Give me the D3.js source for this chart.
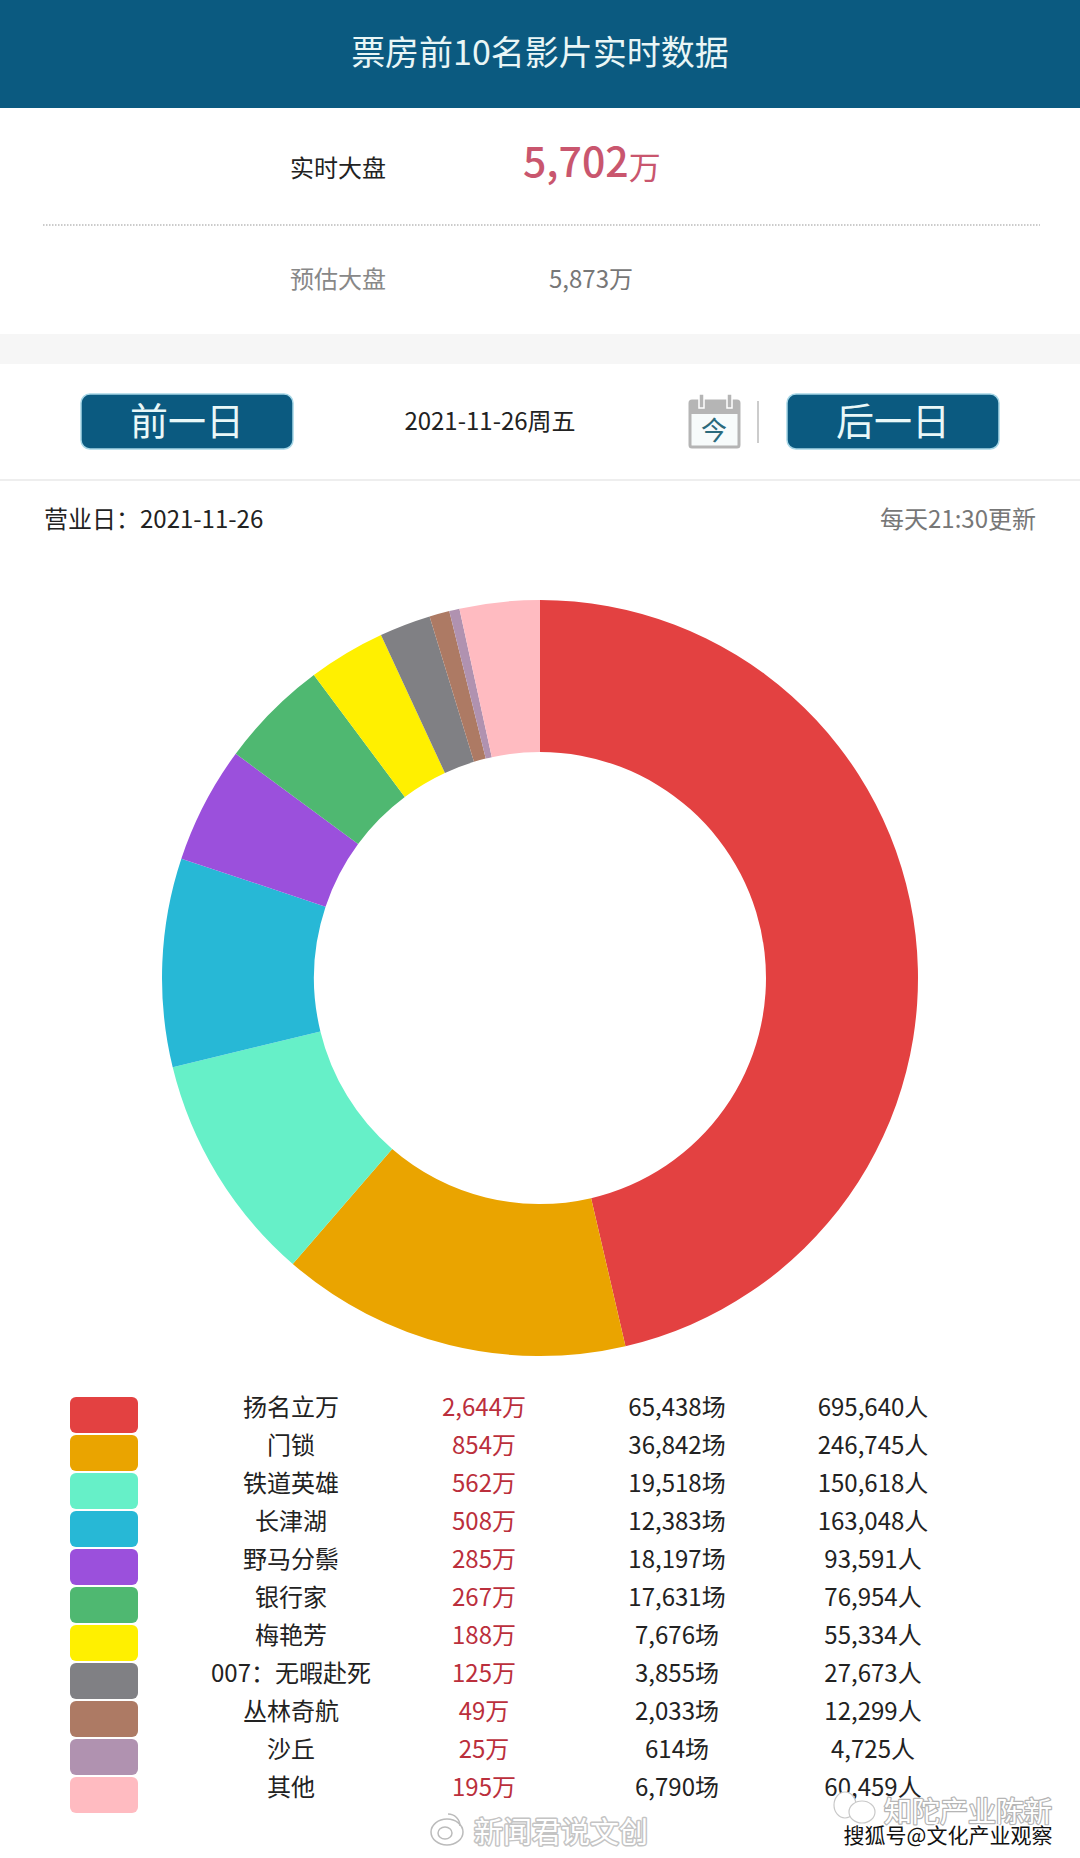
<!DOCTYPE html>
<html>
<head>
<meta charset="utf-8">
<script src="https://d3js.org/d3.v7.min.js"></script>
<style>
  html, body { margin: 0; padding: 0; background: #fff; }
  svg { display: block; }
  text { font-family: "Noto Sans CJK SC", "Noto Sans", sans-serif; }
</style>
</head>
<body>
<svg id="chart" width="1080" height="1858"></svg>
<script>
// film table
var films = ['扬名立万', '门锁', '铁道英雄', '长津湖', '野马分鬃', '银行家', '梅艳芳', '007：无暇赴死', '丛林奇航', '沙丘', '其他'];
var boxOffice = [2644, 854, 562, 508, 285, 267, 188, 125, 49, 25, 195];
var shows = [65438, 36842, 19518, 12383, 18197, 17631, 7676, 3855, 2033, 614, 6790];
var people = [695640, 246745, 150618, 163048, 93591, 76954, 55334, 27673, 12299, 4725, 60459];
var colors = ['#e34141', '#eaa400', '#66f0c8', '#27b8d6', '#9b50dc', '#4fb871', '#fff000', '#808084', '#ad7a64', '#b092b0', '#ffbbc1'];

var fmt = d3.format(',');
var svg = d3.select('#chart');
var teal = '#0b5a80';

// appends a text and returns it
var label = function (x, y, str, size, fill, anchor) {
  return svg.append('text')
    .attr('x', x)
    .attr('y', y)
    .attr('dy', '0.36em')
    .attr('font-size', size)
    .attr('fill', fill)
    .attr('text-anchor', anchor || 'middle')
    .text(str);
};

// header
svg.append('rect').attr('width', 1080).attr('height', 108).attr('fill', teal);
label(540, 53, '票房前10名影片实时数据', 34, '#e9f6f6');

// totals
label(338, 168, '实时大盘', 24, '#222');
var big = label(523, 162, '5,702', 41, '#c9566e', 'start').attr('font-weight', 500);
big.append('tspan').attr('font-size', 32).attr('font-weight', 400).attr('dy', '2').text('万');
svg.append('line')
  .attr('x1', 43).attr('x2', 1040)
  .attr('y1', 225).attr('y2', 225)
  .attr('stroke', '#bbb')
  .attr('stroke-width', 1.5)
  .attr('stroke-dasharray', '1.5 1.5');
label(338, 279, '预估大盘', 24, '#888');
label(591, 279, '5,873万', 24, '#777');

// grey band
svg.append('rect').attr('y', 334).attr('width', 1080).attr('height', 30).attr('fill', '#f6f6f6');
svg.append('rect').attr('y', 479).attr('width', 1080).attr('height', 2).attr('fill', '#eee');

// day buttons
var buttons = [{ x: 81, t: '前一日' }, { x: 787, t: '后一日' }];
buttons.forEach(function (b) {
  svg.append('rect')
    .attr('x', b.x).attr('y', 394)
    .attr('width', 212).attr('height', 55)
    .attr('rx', 9)
    .attr('fill', teal)
    .attr('stroke', '#a6d6e6')
    .attr('stroke-width', 1.5);
  label(b.x + 106, 421, b.t, 38, '#e9f8f8');
});
label(490, 421, '2021-11-26周五', 24, '#222');

// calendar icon
svg.append('rect').attr('x', 690).attr('y', 401).attr('width', 49).attr('height', 46).attr('rx', 2).attr('fill', '#f7fbfb').attr('stroke', '#b5b5b5').attr('stroke-width', 3);
svg.append('rect').attr('x', 690).attr('y', 401).attr('width', 49).attr('height', 13).attr('fill', '#b5b5b5');
[699, 727].forEach(function (x) {
  svg.append('rect').attr('x', x).attr('y', 394).attr('width', 5).attr('height', 14).attr('fill', '#b5b5b5').attr('stroke', '#fff').attr('stroke-width', 1.5);
});
label(714, 431, '今', 26, '#2b6a7c');
svg.append('line').attr('x1', 758).attr('x2', 758).attr('y1', 401).attr('y2', 443).attr('stroke', '#999').attr('stroke-width', 1);

// business date
label(44, 519, '营业日：2021-11-26', 24, '#222', 'start');
label(1036, 519, '每天21:30更新', 24, '#777', 'end');

// donut
var pie = d3.pie().sort(null);
var arc = d3.arc().innerRadius(226).outerRadius(378);
svg.append('g')
  .attr('transform', 'translate(540,978)')
  .selectAll('path')
  .data(pie(boxOffice))
  .enter()
  .append('path')
  .attr('d', arc)
  .attr('fill', function (d, i) { return colors[i]; });

// legend rows
var rowY = d3.scalePoint().domain(d3.range(films.length)).range([1407, 1787]);
var rows = svg.selectAll('.row')
  .data(films)
  .enter()
  .append('g')
  .attr('class', 'row')
  .attr('transform', function (d, i) { return 'translate(0,' + rowY(i) + ')'; });

rows.append('rect')
  .attr('x', 70).attr('y', -10)
  .attr('width', 68).attr('height', 36)
  .attr('rx', 6)
  .attr('fill', function (d, i) { return colors[i]; });

var cell = function (x, fill, fn) {
  rows.append('text')
    .attr('x', x)
    .attr('dy', '0.36em')
    .attr('font-size', 24)
    .attr('text-anchor', 'middle')
    .attr('fill', fill)
    .text(fn);
};
cell(291, '#222', function (d) { return d; });
cell(484, '#bb2f3c', function (d, i) { return fmt(boxOffice[i]) + '万'; });
cell(677, '#222', function (d, i) { return fmt(shows[i]) + '场'; });
cell(873, '#222', function (d, i) { return fmt(people[i]) + '人'; });

// watermarks
var halo = function (sel, color, width) {
  return sel.attr('stroke', color).attr('stroke-width', width).attr('paint-order', 'stroke').attr('stroke-linejoin', 'round');
};
halo(label(561, 1833, '新闻君说文创', 29, '#fff'), '#c4c4c4', 3);
var weibo = svg.append('g').attr('fill', 'none').attr('stroke', '#bbb').attr('stroke-width', 1.5);
weibo.append('ellipse').attr('cx', 447).attr('cy', 1832).attr('rx', 16).attr('ry', 13);
weibo.append('ellipse').attr('cx', 445).attr('cy', 1833).attr('rx', 7).attr('ry', 6);
weibo.append('path').attr('d', d3.arc()({ innerRadius: 12, outerRadius: 12, startAngle: 0, endAngle: Math.PI / 2 })).attr('transform', 'translate(448,1826)');
var wechat = svg.append('g').attr('fill', '#fff').attr('stroke', '#c8c8c8').attr('stroke-width', 1.2);
wechat.append('ellipse').attr('cx', 845).attr('cy', 1805).attr('rx', 11).attr('ry', 13);
wechat.append('ellipse').attr('cx', 862).attr('cy', 1812).attr('rx', 13).attr('ry', 11);
halo(label(968, 1812, '知陀产业陈新', 28, '#fff'), '#b5b5b5', 2.5);
halo(label(948, 1835, '搜狐号@文化产业观察', 21, '#111'), '#fff', 3);
</script>
</body>
</html>
